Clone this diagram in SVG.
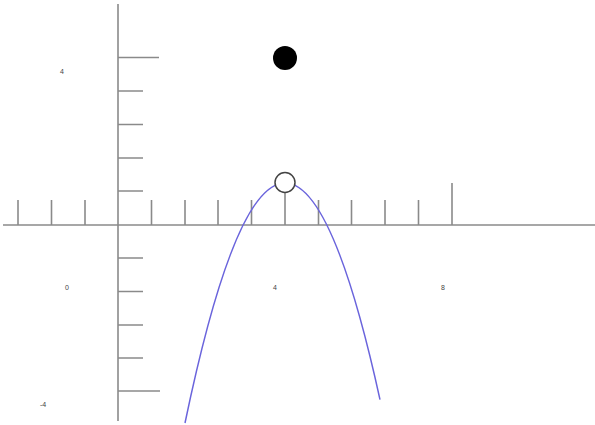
<svg xmlns="http://www.w3.org/2000/svg" width="595" height="425" viewBox="0 0 595 425">
<style>
.ax{stroke:#8a8a8a;stroke-width:1.6;fill:none}
.lbl{font-family:"Liberation Sans",Arial,sans-serif;font-size:7px;fill:#444;text-anchor:middle}
</style>
<rect width="595" height="425" fill="#fff"/>
<g id="axes" class="ax">
<line x1="3" y1="225" x2="595" y2="225"/>
<line x1="118" y1="4" x2="118" y2="421"/>
<path d="M18 200V225M51.5 200V225M85 200V225M151.5 200V225M185 200V225M218 200V225M251.5 200V225M285 193V225M318.5 200V225M351.5 200V225M385 200V225M418.5 200V225M452 183V225"/>
<path d="M118 57.5H159M118 91H143M118 124.5H143M118 158H143M118 191H143M118 258H143M118 291.5H143M118 325H143M118 358H143M118 391H160"/>
</g>
<g id="labels">
<text class="lbl" x="62" y="74">4</text>
<text class="lbl" x="67" y="290">0</text>
<text class="lbl" x="275" y="290">4</text>
<text class="lbl" x="443" y="290">8</text>
<text class="lbl" x="43" y="407">-4</text>
</g>
<g id="curve">
<path d="M185 423Q282.5 -45 380 399.6" fill="none" stroke="#6a64dc" stroke-width="1.5"/>
</g>
<g id="point-filled"><circle cx="285" cy="58" r="12" fill="#000"/></g>
<g id="point-open"><circle cx="285" cy="182.5" r="10" fill="#fff" stroke="#444" stroke-width="1.5"/></g>
</svg>
